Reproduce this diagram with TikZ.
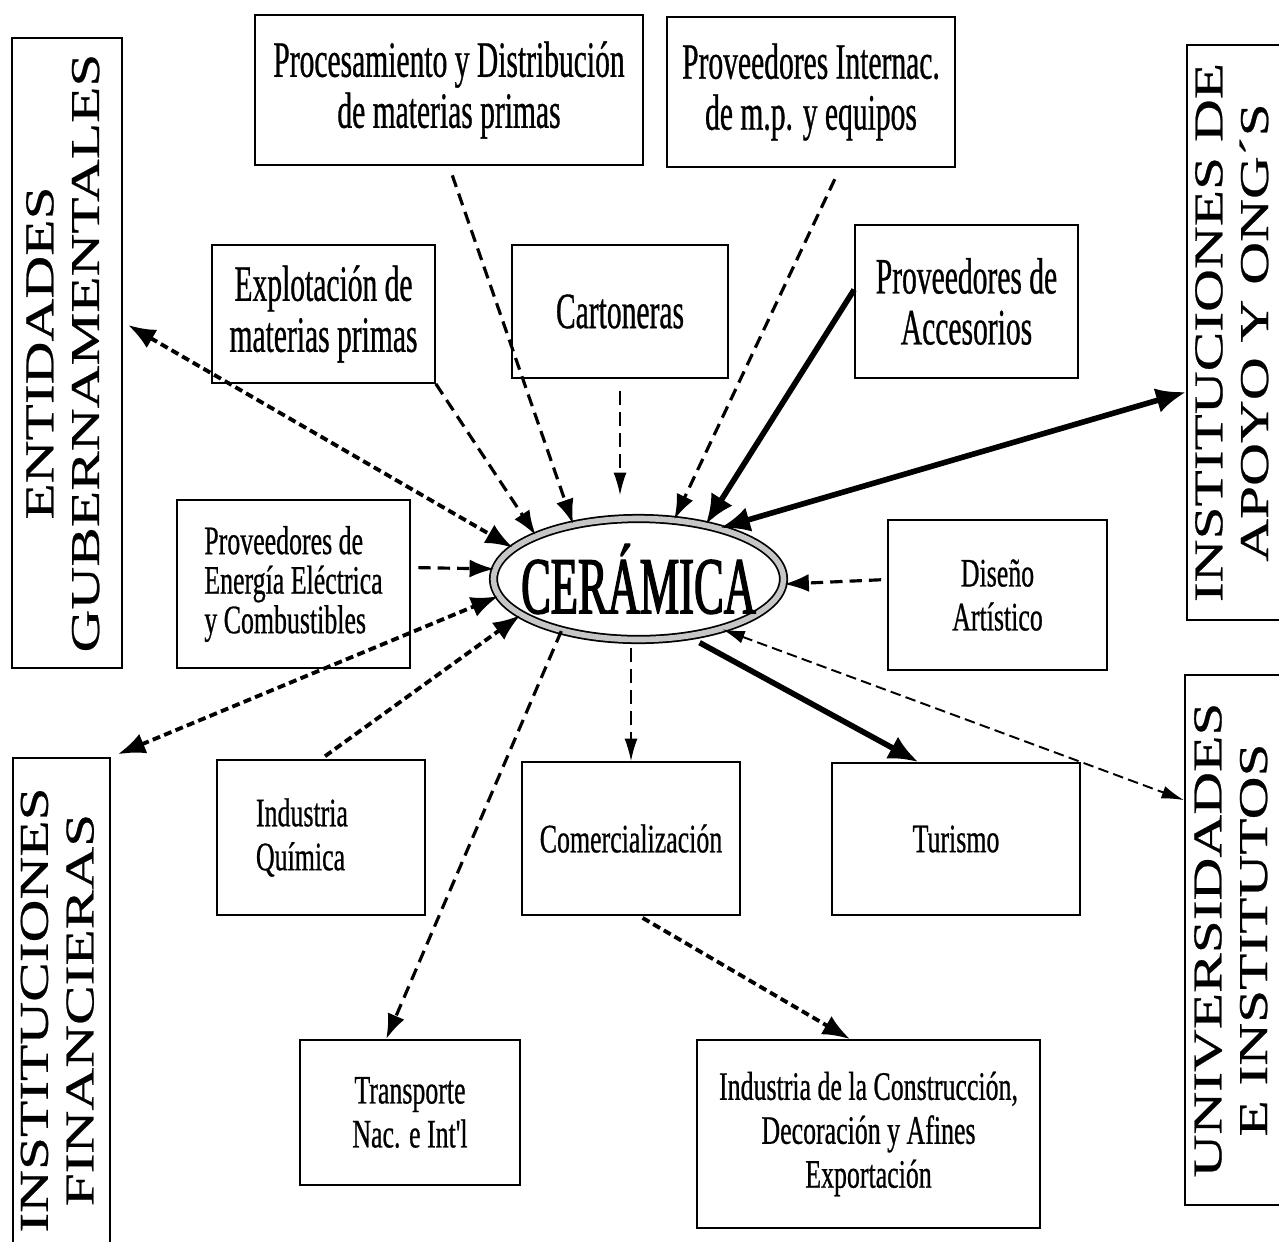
\documentclass[tikz,border=0pt]{standalone}
\usepackage{fontspec}
\usepackage{graphicx}
\setmainfont{Liberation Serif}
\newfontfamily\bigfont[FakeStretch=0.58,FakeBold=0.6]{Liberation Serif}
\newfontfamily\smallfont[FakeStretch=0.64,FakeBold=0.6]{Liberation Serif}
\newfontfamily\cerfont[FakeStretch=0.55,FakeBold=1.6]{Liberation Serif}
\newfontfamily\vertfont[FakeStretch=1.45,FakeBold=0.6]{Liberation Serif}
\usetikzlibrary{arrows.meta,shapes.geometric}
\begin{document}
\begin{tikzpicture}[x=1cm,y=1cm,
  box/.style={draw, line width=1pt, inner sep=0pt, align=center},
  bigtxt/.style={font=\bigfont\fontsize{29}{29}\selectfont},
  smalltxt/.style={font=\smallfont\fontsize{23}{25}\selectfont},
  sidebox/.style={draw, line width=1pt, inner sep=0pt, font=\vertfont\fontsize{23.3}{26}\selectfont},
  hlink/.style={>={Latex[length=0.55cm,width=0.42cm]}, line width=2.2pt, dash pattern=on 4.5pt off 2.5pt},
  dlink/.style={>={Latex[length=0.5cm,width=0.36cm]}, line width=1.8pt, dash pattern=on 7pt off 4pt},
  tlink/.style={>={Latex[length=0.45cm,width=0.26cm]}, line width=0.9pt, dash pattern=on 8pt off 4pt},
  slink/.style={>={Latex[length=0.6cm,width=0.5cm]}, line width=3.2pt}]
\useasboundingbox (0,0) rectangle (25.58,-24.82);
\node[sidebox, minimum width=2.2cm, minimum height=12.6cm] (ent) at (1.34,-7.06) {\rotatebox{90}{\begin{tabular}{@{}c@{}}ENTIDADES\\GUBERNAMENTALES\end{tabular}}};
\node[sidebox, minimum width=1.94cm, minimum height=10.08cm] (fin) at (1.23,-20.2) {\rotatebox{90}{\begin{tabular}{@{}c@{}}INSTITUCIONES\\FINANCIERAS\end{tabular}}};
\node[sidebox, minimum width=1.96cm, minimum height=11.5cm] (apo) at (24.72,-6.65) {\rotatebox{90}{\begin{tabular}{@{}c@{}}INSTITUCIONES DE\\APOYO Y ONG´S\end{tabular}}};
\node[sidebox, minimum width=2.0cm, minimum height=10.6cm] (uni) at (24.7,-18.8) {\rotatebox{90}{\begin{tabular}{@{}c@{}}UNIVERSIDADES\\E INSTITUTOS\end{tabular}}};
\node[box, bigtxt, minimum width=7.76cm, minimum height=3.0cm] (proc) at (8.98,-1.8) {Procesamiento y Distribución\\de materias primas};
\node[box, bigtxt, minimum width=5.76cm, minimum height=3.0cm] (pint) at (16.22,-1.84) {Proveedores Internac.\\de m.p. y equipos};
\node[box, bigtxt, minimum width=4.46cm, minimum height=2.76cm] (expl) at (6.47,-6.28) {Explotación de\\materias primas};
\node[box, bigtxt, minimum width=4.32cm, minimum height=2.66cm] (cart) at (12.4,-6.23) {Cartoneras};
\node[box, bigtxt, minimum width=4.46cm, minimum height=3.06cm] (acc) at (19.33,-6.03) {Proveedores de\\Accesorios};
\node[box, align=left, font=\smallfont\fontsize{23}{22.5}\selectfont, minimum width=4.66cm, minimum height=3.36cm] (ener) at (5.87,-11.68) {Proveedores de\\Energía Eléctrica\\y Combustibles};
\node[ellipse, draw, line width=1pt, double=gray!45, double distance=3.2pt, inner sep=0pt, minimum width=5.8cm, minimum height=2.42cm, font=\cerfont\fontsize{46}{46}\selectfont] (cer) at (12.77,-11.58) {\makebox[0pt]{CERÁMICA}};
\node[box, smalltxt, minimum width=4.38cm, minimum height=3.0cm] (dis) at (19.95,-11.9) {Diseño\\Artístico};
\node[box, smalltxt, minimum width=4.16cm, minimum height=3.1cm] (quim) at (6.42,-16.75) {\begin{minipage}{2.6cm}Industria\\Química\end{minipage}};
\node[box, smalltxt, minimum width=4.36cm, minimum height=3.06cm] (com) at (12.62,-16.77) {Comercialización};
\node[box, smalltxt, minimum width=4.96cm, minimum height=3.04cm] (tur) at (19.12,-16.78) {Turismo};
\node[box, smalltxt, minimum width=4.4cm, minimum height=2.9cm] (trans) at (8.2,-22.25) {Transporte\\Nac. e Int'l};
\node[box, smalltxt, minimum width=6.86cm, minimum height=3.76cm] (cons) at (17.37,-22.68) {Industria de la Construcción,\\Decoración y Afines\\Exportación};
\draw[hlink,<->, shorten <=0.12cm] (ent.29) -- (cer.166);
\draw[dlink,->] (expl.south east) -- (cer.157);
\draw[dlink,->, shorten <=0.2cm] (proc.south) -- (cer.140);
\draw[tlink,->, shorten <=0.24cm, shorten >=0.45cm] (cart.south) -- (cart.south |- cer.north);
\draw[dlink,->, shorten <=0.25cm] (pint.291) -- (cer.59);
\draw[slink,->] (acc.174) -- (cer.39);
\draw[slink,<->] (cer.32) -- (apo.230);
\draw[dlink,->, shorten <=0.15cm] (ener.8) -- (cer.176);
\draw[hlink,<->, shorten <=0.15cm] (fin.north east) -- (cer.187);
\draw[hlink,->, shorten <=0.1cm] (quim.north) -- (cer.197);
\draw[dlink,->, shorten <=0.12cm] (dis.172) -- (cer.358);
\draw[dlink,->] (cer.214) -- (trans.108);
\draw[tlink,->, shorten <=0.15cm] (cer.south -| com.north) -- (com.north);
\draw[slink,->, shorten <=0.25cm] (cer.311) -- (tur.116);
\draw[tlink,<->, line width=1.1pt, dash pattern=on 6pt off 3pt] (cer.329) -- (uni.110);
\draw[hlink,->, shorten <=0.08cm] (com.276) -- (cons.101);
\end{tikzpicture}
\end{document}
